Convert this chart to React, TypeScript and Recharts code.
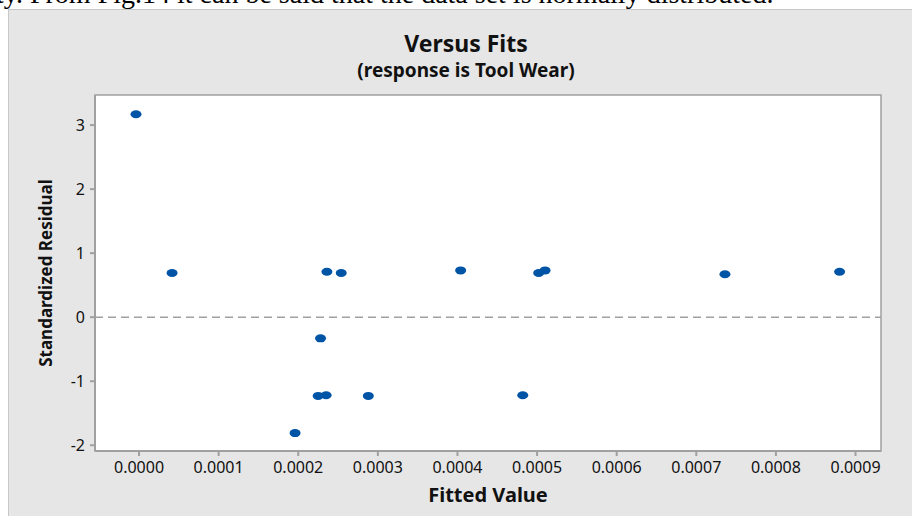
import {
  ScatterChart,
  Scatter,
  XAxis,
  YAxis,
  ReferenceLine,
  ReferenceArea,
} from "recharts";

// fitted values vs standardized residuals
const fittedValues = [
  -0.0000038, 0.0000415, 0.000196, 0.000236, 0.000254, 0.000228, 0.000225,
  0.000235, 0.000288, 0.000404, 0.000502, 0.00051, 0.000482, 0.000736, 0.00088,
];
const stdResiduals = [
  3.17, 0.69, -1.81, 0.71, 0.69, -0.33, -1.23, -1.22, -1.23, 0.73, 0.69, 0.73,
  -1.22, 0.67, 0.71,
];
const xTicks = [0, 0.0001, 0.0002, 0.0003, 0.0004, 0.0005, 0.0006, 0.0007, 0.0008, 0.0009];
const yTicks = [-2, -1, 0, 1, 2, 3];

const X_DOMAIN: [number, number] = [-0.0000553, 0.000932];
const Y_DOMAIN: [number, number] = [-2.09, 3.47];

const points = fittedValues.map((x, i) => ({ x, y: stdResiduals[i] }));

const FONT = "'Noto Sans', 'Open Sans', sans-serif";
const GRID = "#a0a0a0";

const Dot = (props: any) => {
  const { cx, cy } = props;
  return <ellipse cx={cx} cy={cy} rx={5.5} ry={4} fill="#0054a6" />;
};

const XTick = ({ x, y, payload }: any) => (
  <text x={x} y={y + 15} textAnchor="middle" fontSize={16} fontFamily={FONT} fill="#111">
    {payload.value.toFixed(4)}
  </text>
);

const YTick = ({ x, y, payload }: any) => (
  <text x={x - 3} y={y + 6} textAnchor="end" fontSize={16} fontFamily={FONT} fill="#111">
    {payload.value}
  </text>
);

export default function App() {
  return (
    <div
      style={{
        position: "absolute",
        left: 0,
        top: 0,
        width: 912,
        height: 516,
        overflow: "hidden",
        background: "#fff",
      }}
    >
      <div
        style={{
          position: "absolute",
          left: -4,
          top: -22,
          whiteSpace: "nowrap",
          fontFamily: "'Liberation Serif', serif",
          fontSize: 28,
          lineHeight: "32px",
          color: "#000",
        }}
      >
        ty. From Fig.14 it can be said that the data set is normally distributed.
      </div>
      <div
        style={{
          position: "absolute",
          left: 8,
          top: 9,
          width: 920,
          height: 520,
          background: "#e6e6e6",
          borderTop: "1px solid #c8c8c8",
          borderLeft: "1px solid #c8c8c8",
        }}
      />
      <div style={{ position: "absolute", left: 0, top: 0 }}>
        <ScatterChart
          width={912}
          height={516}
          margin={{ top: 95, right: 31, bottom: 0, left: 0 }}
        >
          <text
            x={466}
            y={52}
            textAnchor="middle"
            fontSize={23}
            fontWeight="bold"
            fontFamily={FONT}
            fill="#111"
          >
            Versus Fits
          </text>
          <text
            x={466}
            y={77}
            textAnchor="middle"
            fontSize={19}
            fontWeight="bold"
            fontFamily={FONT}
            fill="#111"
          >
            (response is Tool Wear)
          </text>
          <XAxis
            type="number"
            dataKey="x"
            domain={X_DOMAIN}
            ticks={xTicks}
            height={65}
            axisLine={{ stroke: GRID, strokeWidth: 2 }}
            tickLine={{ stroke: GRID, strokeWidth: 2 }}
            tickSize={5}
            tick={<XTick />}
            label={{
              value: "Fitted Value",
              position: "insideBottom",
              offset: 14,
              fontSize: 20,
              fontWeight: "bold",
              fontFamily: FONT,
              fill: "#111",
            }}
          />
          <YAxis
            type="number"
            dataKey="y"
            domain={Y_DOMAIN}
            ticks={yTicks}
            width={95}
            axisLine={{ stroke: GRID, strokeWidth: 2 }}
            tickLine={{ stroke: GRID, strokeWidth: 2 }}
            tickSize={5}
            tick={<YTick />}
            label={{
              value: "Standardized Residual",
              angle: -90,
              position: "insideLeft",
              offset: 46,
              fontSize: 17,
              fontWeight: "bold",
              fontFamily: FONT,
              fill: "#111",
              style: { textAnchor: "middle" },
            }}
          />
          <ReferenceArea
            x1={X_DOMAIN[0]}
            x2={X_DOMAIN[1]}
            y1={Y_DOMAIN[0]}
            y2={Y_DOMAIN[1]}
            fill="#fff"
            fillOpacity={1}
            stroke={GRID}
            strokeWidth={1.5}
          />
          <ReferenceLine y={0} stroke={GRID} strokeDasharray="8 5" strokeWidth={1.5} />
          <Scatter data={points} shape={<Dot />} isAnimationActive={false} />
        </ScatterChart>
      </div>
    </div>
  );
}
